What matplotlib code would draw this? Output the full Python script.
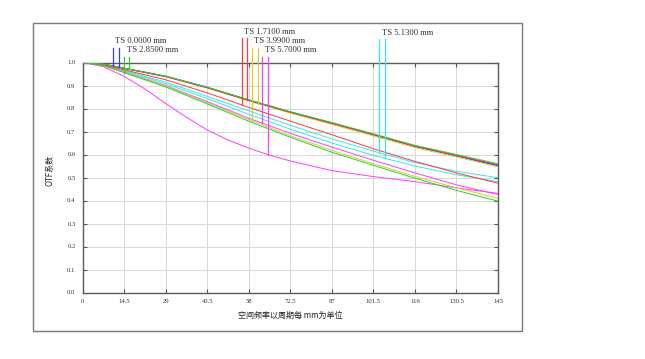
import numpy as np
import matplotlib
matplotlib.use("Agg")
import matplotlib.pyplot as plt
from matplotlib.patches import Rectangle

# ---------------- data ----------------
freq = [0, 7.25, 14.5, 29, 43.5, 58, 72.5, 87, 101.5, 116, 130.5, 145]
freq_fine = [0, 7.25, 14.5, 21.75, 29, 36.25, 43.5, 50.75, 58, 65.25, 72.5, 87, 101.5, 116, 130.5, 145]
x_ticks = [0, 14.5, 29, 43.5, 58, 72.5, 87, 101.5, 116, 130.5, 145]
x_tick_labels = ["0", "14.5", "29", "43.5", "58", "72.5", "87", "101.5", "116", "130.5", "145"]
y_ticks = [0.0, 0.1, 0.2, 0.3, 0.4, 0.5, 0.6, 0.7, 0.8, 0.9, 1.0]
y_tick_labels = ["0.0", "0.1", "0.2", "0.3", "0.4", "0.5", "0.6", "0.7", "0.8", "0.9", "1.0"]

field_labels = ["TS 0.0000 mm", "TS 2.8500 mm", "TS 1.7100 mm",
                "TS 3.9900 mm", "TS 5.7000 mm", "TS 5.1300 mm"]
field_colors = ["#3a3aff", "#2ed02e", "#ff3a3a", "#d2d22a", "#ff3cff", "#3ce6e6"]

# curve A / curve B per field (values at freq)
blue_a    = [1, 0.993, 0.975, 0.940, 0.892, 0.837, 0.785, 0.737, 0.687, 0.636, 0.595, 0.552]
blue_b    = [1, 0.993, 0.975, 0.940, 0.892, 0.837, 0.785, 0.737, 0.687, 0.636, 0.595, 0.552]
green_a   = [1, 0.987, 0.956, 0.894, 0.820, 0.745, 0.675, 0.610, 0.553, 0.497, 0.444, 0.397]
green_b   = [1, 0.993, 0.976, 0.941, 0.893, 0.838, 0.786, 0.739, 0.690, 0.640, 0.600, 0.560]
red_a     = [1, 0.990, 0.968, 0.925, 0.868, 0.805, 0.745, 0.686, 0.625, 0.570, 0.520, 0.475]
red_b     = [1, 0.993, 0.975, 0.939, 0.890, 0.835, 0.783, 0.735, 0.686, 0.636, 0.596, 0.556]
yellow_a  = [1, 0.988, 0.958, 0.898, 0.825, 0.752, 0.682, 0.618, 0.560, 0.505, 0.455, 0.410]
yellow_b  = [1, 0.992, 0.974, 0.938, 0.889, 0.833, 0.780, 0.731, 0.681, 0.630, 0.589, 0.546]
magenta_a = [1, 0.988, 0.958, 0.900, 0.830, 0.758, 0.692, 0.632, 0.575, 0.520, 0.468, 0.426]
magenta_b = [1, 0.982, 0.940, 0.885, 0.822, 0.762, 0.707, 0.663, 0.628, 0.597, 0.572,
             0.530, 0.504, 0.482, 0.455, 0.431]   # sampled at freq_fine
cyan_a    = [1, 0.990, 0.965, 0.915, 0.853, 0.790, 0.727, 0.668, 0.615, 0.565, 0.527, 0.499]
cyan_b    = [1, 0.989, 0.962, 0.908, 0.843, 0.775, 0.710, 0.650, 0.596, 0.550, 0.512, 0.482]

curves_a = [blue_a, green_a, red_a, yellow_a, magenta_a, cyan_a]
curves_b = [blue_b, green_b, red_b, yellow_b, magenta_b, cyan_b]
freqs_a = [freq] * 6
freqs_b = [freq, freq, freq, freq, freq_fine, freq]

# marker frequencies (A, B) and label heights (MTF units above the plot)
marker_fa = [10.6, 14.5, 55.5, 59.1, 62.7, 103.6]
marker_fb = [12.6, 16.4, 57.5, 61.1, 64.7, 105.7]
marker_top = [1.062, 1.023, 1.105, 1.062, 1.023, 1.100]

label_font = "Liberation Serif"
tick_font = "Liberation Serif"
cjk = ["Noto Sans CJK SC", "DejaVu Sans"]

fig = plt.figure(figsize=(6.45, 3.59), dpi=100)
fig.patch.set_facecolor("white")
W, H = 645.0, 359.0
ax = fig.add_axes([82.5 / W, 1 - 292.5 / H, (498 - 82.5) / W, (292.5 - 62.5) / H])

draw_order = [5, 4, 3, 0, 2, 1]
for i in draw_order:
    ax.plot(freqs_a[i], curves_a[i], color=field_colors[i], lw=0.7, zorder=3)
    ax.plot(freqs_b[i], curves_b[i], color=field_colors[i], lw=0.7, zorder=3)

# field markers and labels
for i in range(6):
    ya = np.interp(marker_fa[i], freqs_a[i], curves_a[i])
    yb = np.interp(marker_fb[i], freqs_b[i], curves_b[i])
    ax.plot([marker_fa[i], marker_fa[i]], [ya, marker_top[i]], color=field_colors[i],
            lw=0.9, clip_on=False, zorder=4)
    ax.plot([marker_fb[i], marker_fb[i]], [yb, marker_top[i]], color=field_colors[i],
            lw=0.9, clip_on=False, zorder=4)
    ax.text(marker_fa[i] + 0.9, marker_top[i] + 0.012, field_labels[i],
            fontsize=6.2, family=label_font, color="#333333",
            ha="left", va="bottom", clip_on=False)

ax.set_xlim(0, 145)
ax.set_ylim(0, 1.0)
ax.set_xticks(x_ticks)
ax.set_xticklabels(x_tick_labels, family=tick_font, fontsize=4.8, color="#333333")
ax.set_yticks(y_ticks)
ax.set_yticklabels(y_tick_labels, family=tick_font, fontsize=4.8, color="#333333")
ax.tick_params(direction="in", length=3, width=0.8, color="#555555",
               top=True, right=True, pad=5)
ax.grid(True, color="#d8d8d8", lw=0.7, zorder=0)
for s in ax.spines.values():
    s.set_color("#5a5a5a")
    s.set_linewidth(1.0)

ax.text(-0.079, 0.53, "OTF系数", transform=ax.transAxes, rotation=90,
        ha="center", va="center", fontsize=5.8, family=cjk, color="#222222")
ax.text(0.5, -0.098, "空间频率以周期每 mm为单位", transform=ax.transAxes,
        ha="center", va="center", fontsize=5.8, family=cjk, color="#222222")

fig.patches.append(Rectangle((33 / W, 1 - 331 / H), (522 - 33) / W, (331 - 23) / H,
                             transform=fig.transFigure, fill=False,
                             edgecolor="#7a7a7a", lw=1.0))

fig.savefig("out.png", dpi=100, facecolor="white")
